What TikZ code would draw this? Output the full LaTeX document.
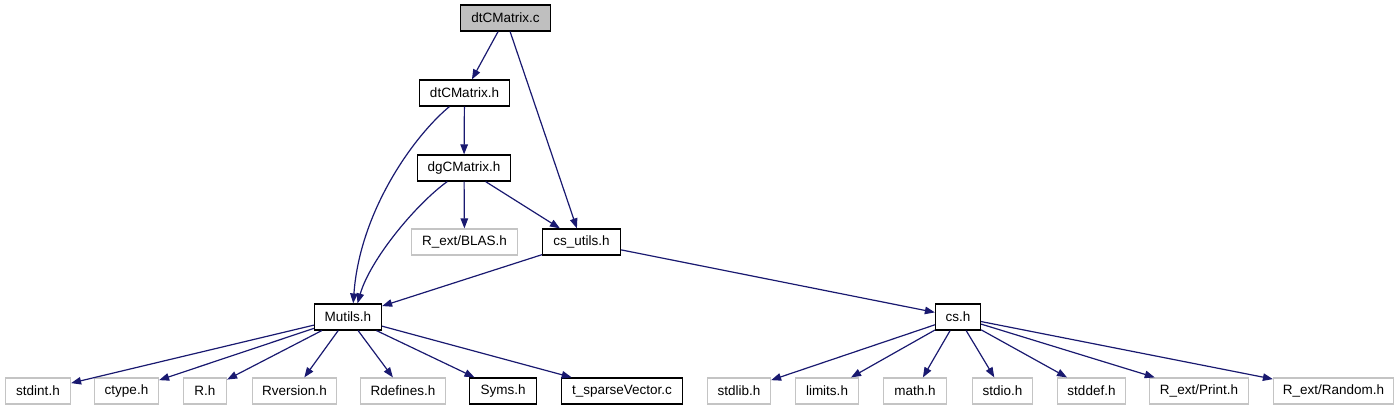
\documentclass[tikz,border=0pt]{standalone}
\usepackage{fontspec}
\setmainfont{Liberation Sans}
\usetikzlibrary{arrows.meta}
\definecolor{edgeblue}{HTML}{191970}
\definecolor{rootfill}{HTML}{BFBFBF}
\definecolor{greyline}{HTML}{C4C4C4}
\begin{document}
\begin{tikzpicture}[x=1pt,y=-1pt,
  box/.style={draw=black, line width=1.2pt, rectangle, minimum height=26pt, inner sep=0pt, fill=white, font=\fontsize{13.5}{16}\selectfont},
  extbox/.style={box, draw=greyline},
  rootbox/.style={box, fill=rootfill},
  dep/.style={draw=edgeblue, line width=1.2pt, -{Triangle[length=10pt,width=7.5pt]}}
]
\useasboundingbox (0,0) rectangle (1400,411);
% top part
\node[rootbox, minimum width=90pt] (root) at (505.5,18) {dtCMatrix.c};
\node[box, minimum width=90pt] (dth) at (464.5,93) {dtCMatrix.h};
\node[box, minimum width=93pt] (dgh) at (464,168) {dgCMatrix.h};
\node[extbox, minimum width=106pt] (blas) at (464.5,242) {R\_ext/BLAS.h};
\node[box, minimum width=78pt] (csu) at (581.5,242) {cs\_utils.h};
\node[box, minimum width=67pt] (mut) at (348,317) {Mutils.h};
\node[box, minimum width=45pt] (cs) at (958,317) {cs.h};
% bottom row left
\node[extbox, minimum width=65pt] (stdint) at (38,391) {stdint.h};
\node[extbox, minimum width=64pt] (ctype) at (126.5,391) {ctype.h};
\node[extbox, minimum width=43pt] (rh) at (205,391) {R.h};
\node[extbox, minimum width=84pt] (rver) at (294.5,391) {Rversion.h};
\node[extbox, minimum width=85pt] (rdef) at (403,391) {Rdefines.h};
\node[box, minimum width=67pt] (syms) at (503,391) {Syms.h};
\node[box, minimum width=121pt] (tsv) at (622,391) {t\_sparseVector.c};
% bottom row right
\node[extbox, minimum width=63pt] (stdlib) at (739,391) {stdlib.h};
\node[extbox, minimum width=63pt] (limits) at (827,391) {limits.h};
\node[extbox, minimum width=63pt] (math) at (915,391) {math.h};
\node[extbox, minimum width=60pt] (stdio) at (1002.5,391) {stdio.h};
\node[extbox, minimum width=68pt] (stddef) at (1091.5,391) {stddef.h};
\node[extbox, minimum width=99pt] (print) at (1199,391) {R\_ext/Print.h};
\node[extbox, minimum width=120pt] (random) at (1333.5,391) {R\_ext/Random.h};
% edges
\draw[dep] (root) -- (dth);
\draw[dep] (root) -- (csu);
\draw[dep] (dth) -- (dgh);
\draw[dep] (dth.222) .. controls (415,135) and (360,210) .. (mut.69);
\draw[dep] (dgh.219) .. controls (415,205) and (370,260) .. (mut.55);
\draw[dep] (dgh) -- (blas);
\draw[dep] (dgh) -- (csu);
\draw[dep] (csu) -- (mut);
\draw[dep] (csu) -- (cs);
\foreach \t in {stdint,ctype,rh,rver,rdef,syms,tsv} {\draw[dep] (mut) -- (\t);}
\foreach \t in {stdlib,limits,math,stdio,stddef,print,random} {\draw[dep] (cs) -- (\t);}
\end{tikzpicture}
\end{document}
